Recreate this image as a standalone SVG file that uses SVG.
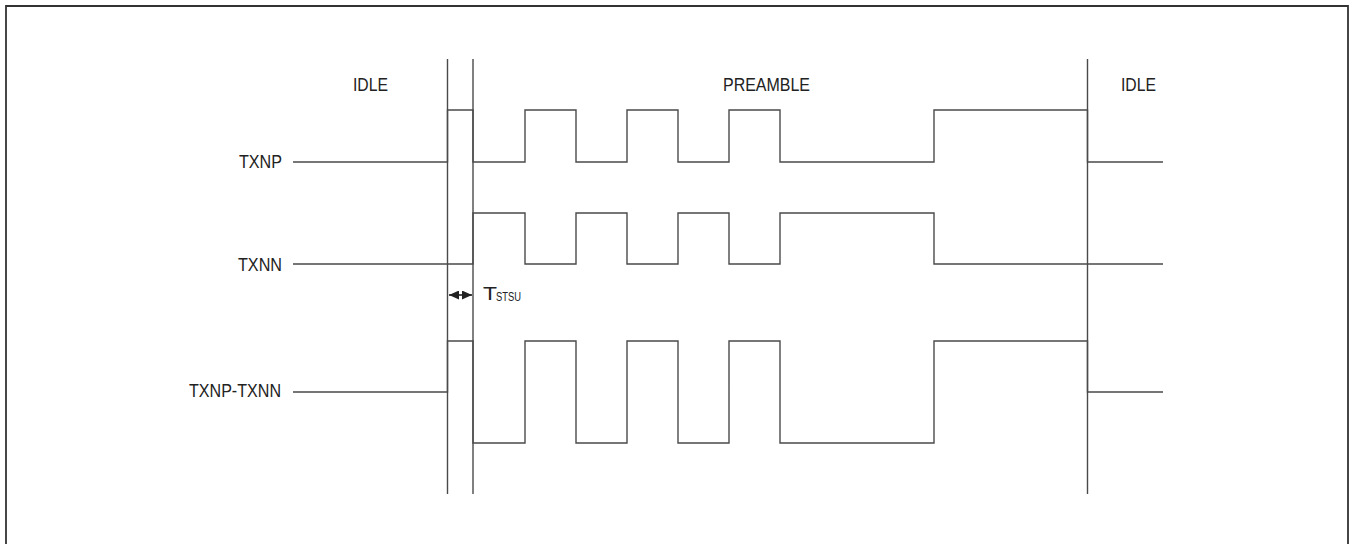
<svg xmlns="http://www.w3.org/2000/svg" width="1350" height="544" viewBox="0 0 1350 544">
<style>
.w{fill:none;stroke:#4a4a4a;stroke-width:1.4}
.b{fill:none;stroke:#333;stroke-width:1.8}
.t{font-family:"Liberation Sans",Arial,sans-serif;font-size:19px;fill:#222}
.s{font-family:"Liberation Sans",Arial,sans-serif;font-size:12px;fill:#222}
</style>
<defs>
<marker id="ah" viewBox="0 0 10 10" refX="10" refY="5" markerWidth="10" markerHeight="9" markerUnits="userSpaceOnUse" orient="auto-start-reverse" preserveAspectRatio="none">
<path d="M0,0 L10,5 L0,10 z" fill="#222"/>
</marker>
</defs>
<path class="b" d="M6,560 V6 H1348 V560"/>
<g id="labels">
<text class="t" x="353" y="91" textLength="35" lengthAdjust="spacingAndGlyphs">IDLE</text>
<text class="t" x="723" y="91" textLength="87" lengthAdjust="spacingAndGlyphs">PREAMBLE</text>
<text class="t" x="1121" y="91" textLength="35" lengthAdjust="spacingAndGlyphs">IDLE</text>
</g>
<g id="node-txnp">
<text class="t" x="282" y="168" text-anchor="end" textLength="43" lengthAdjust="spacingAndGlyphs">TXNP</text>
</g>
<g id="node-txnn">
<text class="t" x="282" y="271" text-anchor="end" textLength="44" lengthAdjust="spacingAndGlyphs">TXNN</text>
</g>
<g id="node-diff">
<text class="t" x="281" y="397" text-anchor="end" textLength="92" lengthAdjust="spacingAndGlyphs">TXNP-TXNN</text>
</g>
<g id="node-tstsu">
<text class="t" x="483" y="300" textLength="14" lengthAdjust="spacingAndGlyphs">T</text><text class="s" x="496" y="301" textLength="25" lengthAdjust="spacingAndGlyphs">STSU</text>
</g>
<g id="connectors">
<line class="w" x1="447.5" y1="59" x2="447.5" y2="494"/>
<line class="w" x1="473" y1="59" x2="473" y2="494"/>
<line class="w" x1="1087.5" y1="59" x2="1087.5" y2="494"/>
<path class="w" d="M293,162 H447.5 V110 H473 V162 H525 V110 H576 V162 H627 V110 H678 V162 H729 V110 H780 V162 H934 V110 H1087.5 V162 H1163"/>
<path class="w" d="M293,264 H473 V213 H525 V264 H576 V213 H627 V264 H678 V213 H729 V264 H780 V213 H934 V264 H1163"/>
<path class="w" d="M293,392 H447.5 V341 H473 V443 H525 V341 H576 V443 H627 V341 H678 V443 H729 V341 H780 V443 H934 V341 H1087.5 V392 H1163"/>
<line x1="449" y1="295" x2="472" y2="295" stroke="#222" stroke-width="1.6" marker-start="url(#ah)" marker-end="url(#ah)"/>
</g>
</svg>
